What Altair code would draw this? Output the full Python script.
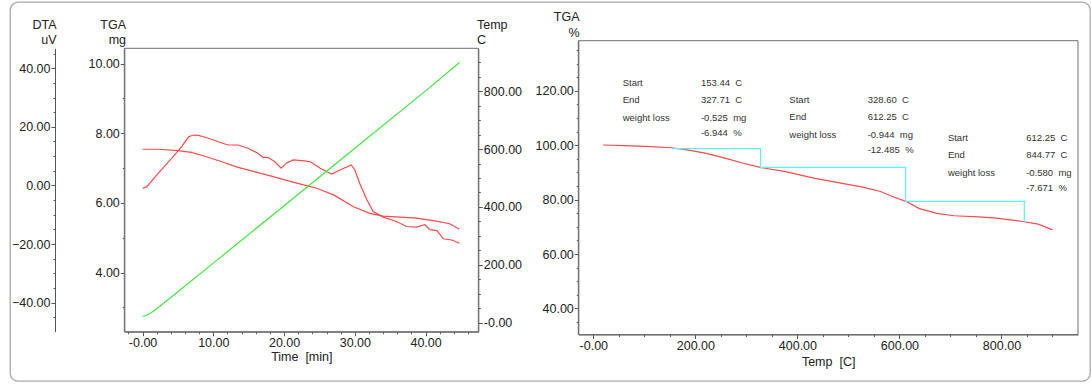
import altair as alt
import pandas as pd

# ---------------- data ----------------
# Left panel: TGA (mg) vs time (min)
time_tga = [0.0, 2.2, 5.0, 6.9, 8.8, 11.2, 13.5, 15.9, 18.2, 20.6, 22.9, 24.6, 27.0,
            29.8, 32.1, 34.0, 36.4, 38.7, 41.1, 43.4, 44.8]
tga_mg = [7.54, 7.54, 7.50, 7.45, 7.34, 7.18, 7.02, 6.89, 6.77, 6.63, 6.51, 6.42, 6.23,
          5.89, 5.70, 5.62, 5.59, 5.56, 5.49, 5.40, 5.24]

# Left panel: DTA (uV) vs time (min)
time_dta = [0.0, 0.6, 2.2, 4.1, 5.5, 6.5, 7.2, 7.9, 9.3, 10.7, 12.1, 13.5, 14.9, 16.3,
            17.0, 17.7, 18.7, 19.6, 20.3, 21.3, 22.9, 23.7, 25.1, 26.7, 27.9, 29.5, 30.0,
            30.7, 31.7, 32.6, 34.0, 35.9, 37.3, 38.7, 39.9, 40.6, 41.6, 42.5, 43.7, 44.8]
dta_uv = [-0.95, -0.4, 4.15, 9.26, 13.2, 16.6, 17.2, 17.1, 16.1, 14.9, 13.8, 13.8, 12.7,
          11.0, 9.6, 9.6, 8.1, 5.9, 7.6, 8.7, 8.4, 8.1, 5.9, 3.9, 5.3, 7.0, 5.3, 0.7, -4.9,
          -8.9, -10.8, -12.3, -14.0, -14.2, -13.4, -15.1, -15.4, -18.2, -18.6, -19.7]

# Left panel: furnace temperature (C) vs time (min)
time_temp = [0.0, 0.5, 1.0, 2.0, 5.0, 10.0, 20.0, 30.0, 40.0, 44.8]
temp_c = [22, 25, 31, 48, 107, 206, 404, 603, 801, 899]

# Right panel: TGA (%) vs temperature (C)
temp_right = [19, 60, 102, 153, 184, 219, 260, 294, 329, 377, 432, 480, 528, 563, 590,
              614, 638, 673, 707, 755, 790, 845, 872, 900]
tga_pct = [100.1, 99.9, 99.6, 99.1, 98.3, 97.1, 95.2, 93.4, 91.8, 90.3, 87.9, 86.3, 84.6,
           83.0, 80.9, 79.3, 76.8, 75.0, 74.1, 73.7, 73.2, 71.9, 71.0, 68.9]

# Right panel: weight-loss step construction (cyan)
step_temp = [153.44, 327.71, 327.71, 612.25, 612.25, 844.77, 844.77]
step_pct = [98.8, 98.8, 91.9, 91.9, 79.4, 79.4, 71.7]

# Right panel: annotation texts
annot_labels = ["Start", "End", "weight loss", ""]
annot_values = [
    ["153.44\u00a0\u00a0C", "327.71\u00a0\u00a0C", "-0.525\u00a0\u00a0mg", "-6.944\u00a0\u00a0%"],
    ["328.60\u00a0\u00a0C", "612.25\u00a0\u00a0C", "-0.944\u00a0\u00a0mg", "-12.485\u00a0\u00a0%"],
    ["612.25\u00a0\u00a0C", "844.77\u00a0\u00a0C", "-0.580\u00a0\u00a0mg", "-7.671\u00a0\u00a0%"],
]

# ---------------- layout constants (pixels inside the view / data-unit anchors) ----------------
W, H = 1080, 379
FONT = "Liberation Sans"

L_X_DOM = [-2.58, 47.45]
L_X_RNG = [114.3, 468.3]
L_Y_RNG = [329.7, 46.3]
TGA_DOM = [2.30, 10.44]
DTA_DOM = [-49.9, 46.8]
TEMP_DOM = [-31.0, 948.0]

R_X_DOM = [-29.4, 950.0]
R_X_RNG = [568.3, 1068.0]
R_Y_DOM = [30.44, 138.45]
R_Y_RNG = [332.5, 38.7]

ANNOT_T = [57.6, 384.3, 695.0]
ANNOT_P = [123.0, 116.8, 102.8]
ROW_OFF = [0.0, -6.5, -13.0, -18.4]
VAL_DT = 153.4

RED = "#ff4a4a"
GREEN = "#3fe83f"
CYAN = "#5ef0f0"
FRAME = "#707070"


def tick_values(lo, hi, step):
    out, v = [], lo
    while v <= hi + 1e-9:
        out.append(round(v, 6))
        v += step
    return out


def make_axis(values, major, neg_zero, orient, offset, **kw):
    zero_lbl = "'-0.00'" if neg_zero else "'0.00'"
    is_major = f"abs(datum.value) % {major} < 1e-6"
    return alt.Axis(
        values=values, orient=orient, offset=offset, grid=False,
        labelExpr=f"({is_major}) ? (datum.value === 0 ? {zero_lbl} : format(datum.value, '.2f')) : ''",
        tickSize={"condition": {"test": is_major, "value": 4}, "value": 2},
        labelOverlap=False, labelFlush=False, labelPadding=1,
        **kw,
    )


def qscale(dom, rng):
    return alt.Scale(domain=dom, range=rng, nice=False, zero=False)


# ---------------- left panel ----------------
xL = alt.X("x:Q", scale=qscale(L_X_DOM, L_X_RNG),
           axis=make_axis(tick_values(-2, 46, 2), 10, True, "bottom", L_Y_RNG[0] - H,
                          title="Time\u00a0\u00a0[min]", titleY=24.5, titleBaseline="middle"))
xL_hidden = alt.X("x:Q", scale=qscale(L_X_DOM, L_X_RNG), axis=None)

yTGA = alt.Y("y:Q", scale=qscale(TGA_DOM, L_Y_RNG),
             axis=make_axis(tick_values(3, 10, 1), 2, False, "left", -L_X_RNG[0],
                            title=["TGA", "mg"], titleAngle=0, titleAlign="right",
                            titleX=1.2, titleY=22.2, titleBaseline="middle", titleLineHeight=15.3))
yDTA = alt.Y("y:Q", scale=qscale(DTA_DOM, L_Y_RNG),
             axis=make_axis(tick_values(-45, 45, 5), 20, False, "left", -45,
                            title=["DTA", "uV"], titleAngle=0, titleAlign="right",
                            titleX=1.0, titleY=22.2, titleBaseline="middle", titleLineHeight=15.3))
yTEMP = alt.Y("y:Q", scale=qscale(TEMP_DOM, L_Y_RNG),
              axis=make_axis(tick_values(0, 900, 50), 200, True, "right", L_X_RNG[1] - W,
                             title=["Temp", "C"], titleAngle=0, titleAlign="left",
                             titleX=-1.8, titleY=22.2, titleBaseline="middle", titleLineHeight=15.3))

df_frame_l = pd.DataFrame({"x": [L_X_DOM[0]], "x2": [L_X_DOM[1]],
                           "y": [TGA_DOM[0]], "y2": [TGA_DOM[1]]})
frame_l = alt.Chart(df_frame_l).mark_rect(fill="transparent", stroke=FRAME, strokeWidth=1).encode(
    x=xL, x2="x2:Q", y=yTGA, y2="y2:Q")
tga_line = alt.Chart(pd.DataFrame({"x": time_tga, "y": tga_mg})).mark_line(
    color=RED, strokeWidth=1.2).encode(x=xL, y=yTGA)
left_tga = alt.layer(frame_l, tga_line)

dta_line = alt.Chart(pd.DataFrame({"x": time_dta, "y": dta_uv})).mark_line(
    color=RED, strokeWidth=1.2).encode(x=xL_hidden, y=yDTA)
temp_line = alt.Chart(pd.DataFrame({"x": time_temp, "y": temp_c})).mark_line(
    color=GREEN, strokeWidth=1.2).encode(x=xL_hidden, y=yTEMP)

# ---------------- right panel ----------------
xR = alt.X("x:Q", scale=qscale(R_X_DOM, R_X_RNG),
           axis=make_axis(tick_values(0, 900, 50), 200, True, "bottom", R_Y_RNG[0] - H,
                          title="Temp\u00a0\u00a0[C]", titleY=27, titleBaseline="middle"))
yR = alt.Y("y:Q", scale=qscale(R_Y_DOM, R_Y_RNG),
           axis=make_axis(tick_values(35, 135, 5), 20, False, "left", -R_X_RNG[0],
                          title=["TGA", "%"], titleAngle=0, titleAlign="right",
                          titleX=0.7, titleY=14.8, titleBaseline="middle", titleLineHeight=15.3))

df_frame_r = pd.DataFrame({"x": [R_X_DOM[0]], "x2": [R_X_DOM[1]],
                           "y": [R_Y_DOM[0]], "y2": [R_Y_DOM[1]]})
frame_r = alt.Chart(df_frame_r).mark_rect(fill="transparent", stroke=FRAME, strokeWidth=1).encode(
    x=xR, x2="x2:Q", y=yR, y2="y2:Q")
curve_r = alt.Chart(pd.DataFrame({"x": temp_right, "y": tga_pct})).mark_line(
    color=RED, strokeWidth=1.2).encode(x=xR, y=yR)
steps_r = alt.Chart(pd.DataFrame({"x": step_temp, "y": step_pct, "i": list(range(len(step_temp)))})
                    ).mark_line(color=CYAN, strokeWidth=1.2).encode(x=xR, y=yR, order="i:Q")

rows = []
for b, vals in enumerate(annot_values):
    for r, lab in enumerate(annot_labels):
        y = ANNOT_P[b] + ROW_OFF[r]
        if lab:
            rows.append({"x": ANNOT_T[b], "y": y, "t": lab})
        rows.append({"x": ANNOT_T[b] + VAL_DT, "y": y, "t": vals[r]})
text_r = alt.Chart(pd.DataFrame(rows)).mark_text(
    align="left", baseline="middle", font=FONT, fontSize=9.5, color="#333333").encode(
    x=xR, y=yR, text="t:N")

right = alt.layer(frame_r, curve_r, steps_r, text_r)

chart = (
    alt.layer(left_tga, dta_line, temp_line, right)
    .resolve_scale(x="independent", y="independent")
    .properties(width=W, height=H, autosize=alt.AutoSizeParams(type="none"),
                padding={"left": 10, "top": 2, "right": 1, "bottom": 4})
    .configure_view(stroke="#a9a9a9", strokeWidth=1.3, cornerRadius=8)
    .configure_axis(domainColor="#555555", tickColor="#555555", labelColor="#222222",
                    labelFont=FONT, labelFontSize=12.5, titleFont=FONT, titleFontSize=12.5,
                    titleFontWeight="normal", titleColor="#222222", domainWidth=1, tickWidth=1)
)

chart.save("out.html", embed_options={"renderer": "svg", "actions": False})
